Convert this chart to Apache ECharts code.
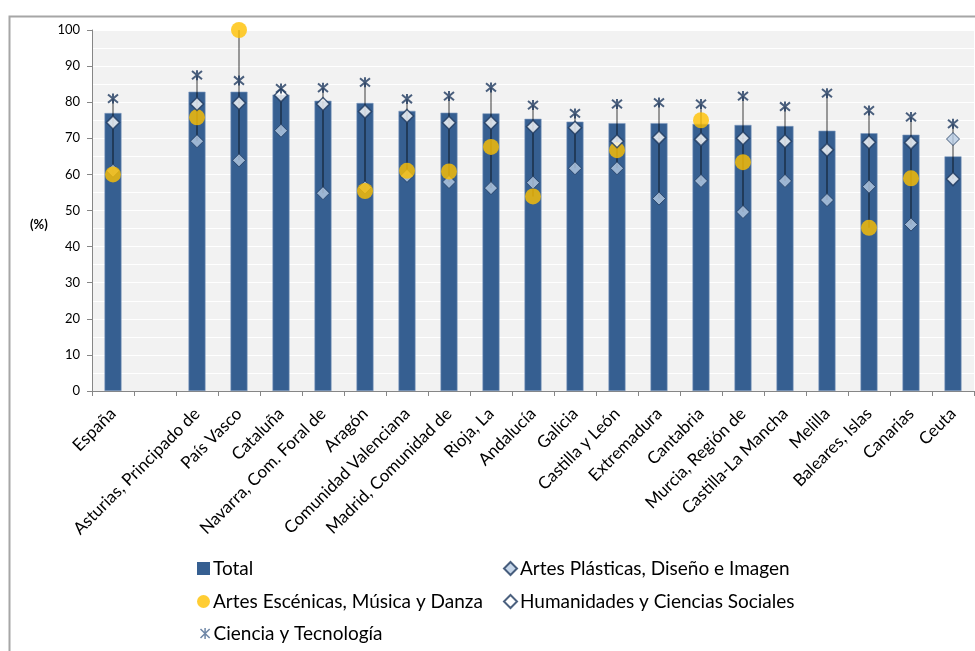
<!DOCTYPE html>
<html>
<head>
<meta charset="utf-8">
<script src="https://cdn.jsdelivr.net/npm/echarts@6/dist/echarts.min.js"></script>
<style>
  html, body { margin: 0; padding: 0; background: #fff; }
  #chart { width: 975px; height: 651px; }
</style>
</head>
<body>
<div id="chart"></div>
<script>
// categorias (la segunda queda vacia, como en el original)
var categories = ['España', '', 'Asturias, Principado de', 'País Vasco', 'Cataluña',
    'Navarra, Com. Foral de', 'Aragón', 'Comunidad Valenciana', 'Madrid, Comunidad de',
    'Rioja, La', 'Andalucía', 'Galicia', 'Castilla y León', 'Extremadura', 'Cantabria',
    'Murcia, Región de', 'Castilla-La Mancha', 'Melilla', 'Baleares, Islas', 'Canarias', 'Ceuta'];

var total = [77.0, null, 82.9, 82.9, 82.1, 80.4, 79.8, 77.6, 77.1, 76.9, 75.4, 74.6, 74.2,
    74.2, 74.0, 73.7, 73.4, 72.1, 71.4, 71.0, 65.0];
var artesPlasticas = [61.0, null, 69.2, 63.9, 72.1, 54.8, 56.4, 59.6, 57.9, 56.2, 57.7, 61.7,
    61.7, 53.3, 58.2, 49.6, 58.2, 52.9, 56.6, 46.1, 69.8];
var artesEscenicas = [60.0, null, 75.8, 100, null, null, 55.4, 61.0, 60.8, 67.6, 53.9, null,
    66.7, null, 75.0, 63.4, null, null, 45.2, 58.9, null];
var humanidades = [74.4, null, 79.5, 79.8, 81.9, 79.5, 77.4, 76.2, 74.3, 74.3, 73.2, 72.9,
    69.2, 70.2, 69.7, 70.0, 69.2, 66.8, 68.9, 68.8, 58.7];
var ciencia = [81.0, null, 87.5, 86.0, 83.8, 84.0, 85.5, 80.9, 81.7, 84.1, 79.2, 76.9, 79.5,
    79.9, 79.5, 81.7, 78.8, 82.5, 77.7, 75.9, 74.0];

var yTicks = [0, 100, 10];

var FONT = 'Lato';
var NAVY = '#365f91';
var DARK = '#1f3a5f';
var asterisk = 'path://M0,0L10,10M10,0L0,10M5,-1L5,11';

// lineas max-min por categoria
var hiLow = [];
for (var i = 0; i < categories.length; i++) {
    var vals = [artesPlasticas[i], artesEscenicas[i], humanidades[i], ciencia[i]].filter(function (v) {
        return v !== null;
    });
    if (vals.length > 1) {
        hiLow.push([i, Math.min.apply(null, vals), Math.max.apply(null, vals)]);
    }
}

// una leyenda por entrada, para colocarlas en dos columnas como el original
function legendItem(name, icon, left, top, size, style) {
    var l = {
        left: left, top: top,
        itemWidth: size, itemHeight: size, itemGap: 0,
        textStyle: {fontFamily: FONT, fontSize: 19, color: '#000', padding: [0, 0, 0, -2]},
        data: [{name: name, icon: icon}]
    };
    if (style) l.itemStyle = style;
    return l;
}

var dom = document.getElementById('chart');
var myChart = echarts.init(dom, null, {renderer: 'canvas'});

var option = {
    animation: false,
    backgroundColor: '#ffffff',
    textStyle: {fontFamily: FONT},
    graphic: [
        {
            type: 'rect', left: 7, top: 14, z: -10,
            shape: {width: 1000, height: 700},
            style: {fill: 'none', stroke: '#a6a6a6', lineWidth: 2}
        },
        {
            type: 'text', left: 30, top: 218,
            style: {text: '(%)', font: 'bold 13px ' + FONT, fill: '#000'}
        }
    ],
    grid: {
        left: 92, right: 1, top: 30, bottom: 260,
        show: true, backgroundColor: '#f2f2f2', borderWidth: 0
    },
    legend: [
        legendItem('Total', 'rect', 192, 554, 13, {borderWidth: 0}),
        legendItem('Artes Escénicas, Música y Danza', 'circle', 192, 587, 13),
        legendItem('Ciencia y Tecnología', asterisk, 193, 619, 11,
            {color: 'none', borderColor: '#4a6890', borderWidth: 1.5}),
        legendItem('Artes Plásticas, Diseño e Imagen', 'diamond', 498, 554, 13),
        legendItem('Humanidades y Ciencias Sociales', 'diamond', 498, 587, 13)
    ],
    xAxis: {
        type: 'category',
        data: categories,
        axisLine: {lineStyle: {color: '#868686'}},
        axisTick: {show: true, length: 5, lineStyle: {color: '#868686'}},
        axisLabel: {rotate: 45, interval: 0, fontSize: 17, color: '#000', fontFamily: FONT, margin: 20}
    },
    yAxis: {
        type: 'value',
        min: yTicks[0], max: yTicks[1], interval: yTicks[2],
        axisLine: {show: true, lineStyle: {color: '#868686'}},
        axisTick: {show: true, length: 5, lineStyle: {color: '#868686'}},
        axisLabel: {fontSize: 13, color: '#000', fontFamily: FONT, margin: 12},
        splitLine: {lineStyle: {color: '#ffffff', width: 1}},
        minorTick: {show: false, splitNumber: 2},
        minorSplitLine: {show: true, lineStyle: {color: '#ffffff', width: 1}}
    },
    series: [
        {
            name: 'Total', type: 'bar', data: total, barWidth: 17, z: 1,
            itemStyle: {color: NAVY, borderColor: '#7f9ac0', borderWidth: 0.6}
        },
        {
            name: 'hilow', type: 'custom', z: 2, data: hiLow, silent: true,
            renderItem: function (params, api) {
                var p1 = api.coord([api.value(0), api.value(2)]);
                var p2 = api.coord([api.value(0), api.value(1)]);
                return {
                    type: 'line',
                    shape: {x1: p1[0], y1: p1[1], x2: p2[0], y2: p2[1]},
                    style: {stroke: 'rgba(0,0,0,0.5)', lineWidth: 1.5}
                };
            }
        },
        {
            name: 'Artes Plásticas, Diseño e Imagen', type: 'scatter', data: artesPlasticas, z: 3,
            symbol: 'diamond', symbolSize: 13,
            itemStyle: {color: '#b8cce4', borderColor: DARK, borderWidth: 1}
        },
        {
            name: 'Artes Escénicas, Música y Danza', type: 'scatter', data: artesEscenicas, z: 4,
            symbol: 'circle', symbolSize: 16,
            itemStyle: {color: '#ffc000'}
        },
        {
            name: 'Humanidades y Ciencias Sociales', type: 'scatter', data: humanidades, z: 5,
            symbol: 'diamond', symbolSize: 13,
            itemStyle: {color: '#ffffff', borderColor: DARK, borderWidth: 1.5}
        },
        {
            name: 'Ciencia y Tecnología', type: 'scatter', data: ciencia, z: 6,
            symbol: asterisk, symbolSize: 10,
            itemStyle: {color: 'none', borderColor: DARK, borderWidth: 2}
        }
    ]
};

if (option && typeof option === 'object') {
    myChart.setOption(option, true);
}
</script>
</body>
</html>
